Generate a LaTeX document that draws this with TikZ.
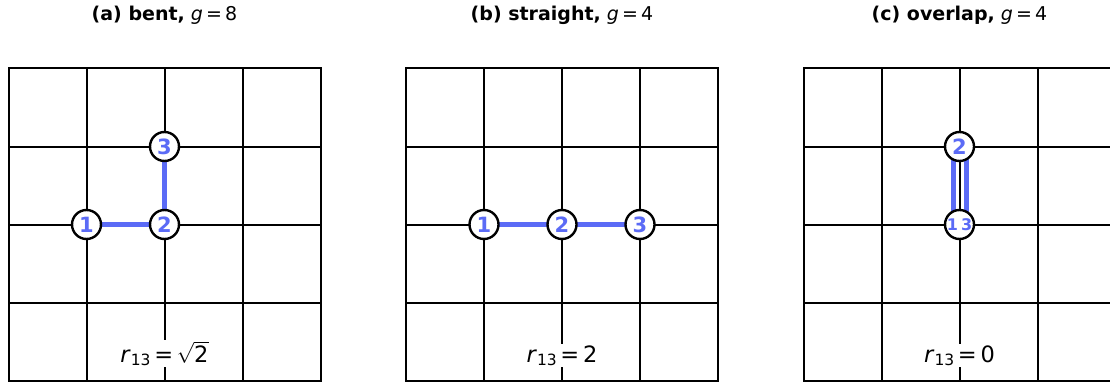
\documentclass[tikz,border=0pt]{standalone}
\usepackage{fontspec}
\setmainfont{DejaVu Sans}
\usepackage{amsmath}
\usetikzlibrary{backgrounds}
\definecolor{BondBlue}{HTML}{5B6BF6}

\begin{document}
\begin{tikzpicture}[x=1pt, y=1pt,
      site/.style={draw, circle, line width=2.4pt, fill=white, minimum size=29pt,
                   inner sep=0pt, text=BondBlue,
                   font=\fontsize{21}{21}\selectfont\bfseries},
      pair/.style={site, font=\fontsize{16}{16}\selectfont\bfseries},
      bond/.style={BondBlue, line width=5pt},
      gridline/.style={line width=2pt},
      ttl/.style={anchor=base, font=\fontsize{19}{22}\selectfont},
      dist/.style={anchor=base, fill=white, inner xsep=2pt, inner ysep=1.5pt,
                   font=\fontsize{22.5}{24}\selectfont},
    ]
      \clip (0,0) rectangle (1110,381);
      \node[ttl] (ta) at (164.5,360) {\textbf{(a) bent,} \textit{g}\,=\,8};
      \node[ttl] (tb) at (562,360) {\textbf{(b) straight,} \textit{g}\,=\,4};
      \node[ttl] (tc) at (959.5,360) {\textbf{(c) overlap,} \textit{g}\,=\,4};
      \node[site] (a1) at (86.5,156.5) {1};
      \node[site] (a2) at (164.5,156.5) {2};
      \node[site] (a3) at (164.5,234.5) {3};
      \node[site] (b1) at (484,156.5) {1};
      \node[site] (b2) at (562,156.5) {2};
      \node[site] (b3) at (640,156.5) {3};
      \node[site] (c2) at (959.5,234.5) {2};
      \node[pair] (c13) at (959.5,156.5) {1\hspace{0.2em}3};
      \node[dist] (ra) at (164.5,19)
            {\textit{r}\raisebox{-0.16em}{\fontsize{15.5}{16}\selectfont 13}\,=\,$\sqrt{\text{2}}$};
      \node[dist] (rb) at (562,19)
            {\textit{r}\raisebox{-0.16em}{\fontsize{15.5}{16}\selectfont 13}\,=\,2};
      \node[dist] (rc) at (959.5,19)
            {\textit{r}\raisebox{-0.16em}{\fontsize{15.5}{16}\selectfont 13}\,=\,0};
      \begin{pgfonlayer}{background}
        \foreach \ox in {8.5,406,803.5} {
          \draw[gridline] (\ox,0.5) rectangle ++(312,312);
          \foreach \k in {1,2,3} {
            \draw[gridline] (\ox+78*\k,0.5) -- ++(0,312);
            \draw[gridline] (\ox,0.5+78*\k) -- ++(312,0);
          }
        }
        \draw[bond] (a1.center) -- (a2.center) -- (a3.center);
        \draw[bond] (b1.center) -- (b2.center) -- (b3.center);
        \draw[bond] ([xshift=-6.5pt]c2.center) -- ([xshift=-6.5pt]c13.center);
        \draw[bond] ([xshift=6.5pt]c2.center) -- ([xshift=6.5pt]c13.center);
      \end{pgfonlayer}
    \end{tikzpicture}
\end{document}
